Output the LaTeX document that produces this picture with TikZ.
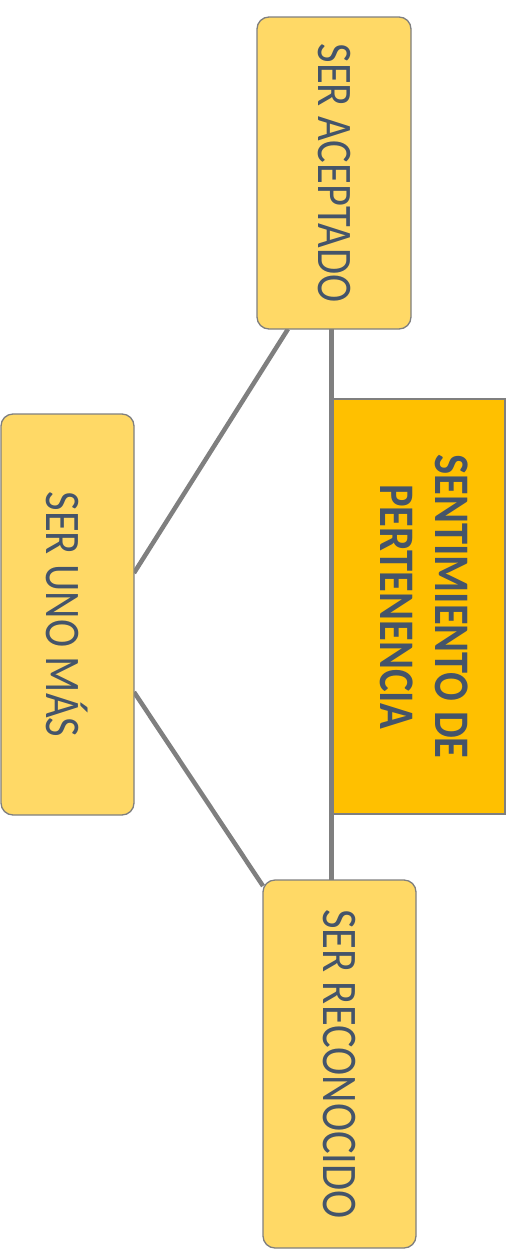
\documentclass[tikz,border=0pt]{standalone}
\usepackage{fontspec}
\setmainfont{Carlito}
\usetikzlibrary{backgrounds,calc}
\definecolor{lightbox}{HTML}{FFD966}
\definecolor{darkbox}{HTML}{FFC000}
\definecolor{edgegray}{HTML}{7F7F7F}
\definecolor{txtcol}{HTML}{44546A}
\newcommand{\vtext}[1]{\rotatebox{-90}{\scalebox{1}[1.17]{#1}}}
\begin{document}
\begin{tikzpicture}[x=1pt,y=-1pt,
  box/.style={draw=edgegray, line width=1.3pt, fill=lightbox, rounded corners=12pt,
    inner sep=0pt, outer sep=0pt, text=txtcol, font=\fontsize{42.5}{47}\selectfont},
  mainbox/.style={box, fill=darkbox, rounded corners=0pt,
    font=\fontsize{42.5}{47}\selectfont\bfseries},
  conn/.style={draw=edgegray, line width=4.5pt}]
\useasboundingbox (0,0) rectangle (512,1250);
\node[box, minimum width=154pt, minimum height=312pt] (acc) at (334,173) {\vtext{SER ACEPTADO}};
\node[box, minimum width=133pt, minimum height=401pt] (uno) at (67.5,614.5) {\vtext{SER UNO MÁS}};
\node[mainbox, minimum width=172pt, minimum height=415pt] (sent) at (419,606.5)
  {\vtext{\begin{tabular}{@{}c@{}}SENTIMIENTO DE\\PERTENENCIA\end{tabular}}};
\node[box, minimum width=153pt, minimum height=368pt] (rec) at (339.5,1064) {\vtext{SER RECONOCIDO}};
\begin{pgfonlayer}{background}
  \draw[conn] ([xshift=-46pt]acc.south) -- ([yshift=41.5pt]uno.east);
  \draw[conn] ([yshift=-77.5pt]uno.east) -- ([yshift=-6pt]rec.north west);
  \draw[conn] ($(sent.west |- acc.south)+(-1.5,0)$) -- ($(sent.west |- rec.north)+(-1.5,0)$);
\end{pgfonlayer}
\end{tikzpicture}
\end{document}
